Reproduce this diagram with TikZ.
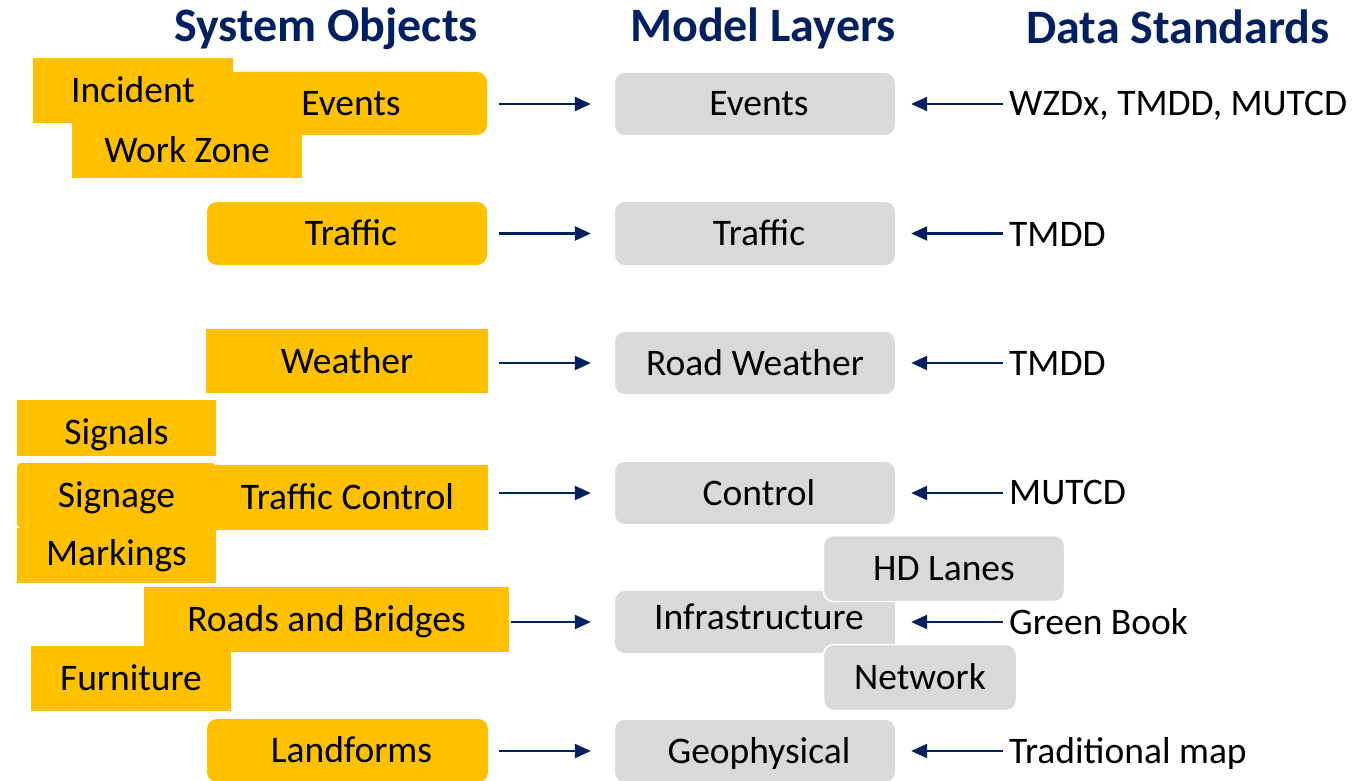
\documentclass[tikz,border=0pt]{standalone}
\usepackage{fontspec}
\setmainfont{Carlito}
\usetikzlibrary{arrows.meta}
\definecolor{objfill}{HTML}{FFC000}
\definecolor{layerfill}{HTML}{D9D9D9}
\definecolor{navy}{HTML}{002060}
% nudge a label to the right inside its box
\newcommand{\nudge}[1]{\hspace*{8pt}#1}
\tikzset{
  lbl/.style={font=\fontsize{37.5}{41}\selectfont, text height=24pt, text depth=0pt, inner sep=0pt},
  obj/.style={lbl, fill=objfill, draw=none},
  objr/.style={obj, rounded corners=10pt},
  layer/.style={lbl, fill=layerfill, rounded corners=10pt},
  sublayer/.style={layer, draw=white, line width=1.5pt},
  head/.style={font=\fontsize{48}{52}\selectfont\bfseries, text=navy, text height=31pt, text depth=0pt, inner sep=0pt},
  std/.style={lbl, anchor=west, inner sep=1pt},
  feed/.style={draw=navy, line width=2.4pt, -{Triangle[length=16pt,width=14pt]}},
}
\begin{document}
\begin{tikzpicture}[x=1pt, y=-1pt]
\useasboundingbox (0,0) rectangle (1371,781);

% column headings
\node[head] (hObj) at (326,26) {System Objects};
\node[head] (hLay) at (763,26) {Model Layers};
\node[head] (hStd) at (1178,28) {Data Standards};

% system objects
\node[objr, minimum width=280pt, minimum height=63pt] (yEvents) at (347,103.5) {\nudge{Events}};
\node[obj, minimum width=200pt, minimum height=65pt] (yIncident) at (133,90.5) {Incident};
\node[obj, minimum width=230pt, minimum height=55pt] (yWork) at (187,150.5) {Work Zone};

\node[objr, minimum width=280pt, minimum height=63pt] (yTraffic) at (347,233.5) {\nudge{Traffic}};
\node[obj, minimum width=282pt, minimum height=64pt] (yWeather) at (347,361) {Weather};

\node[obj, minimum width=281pt, minimum height=65pt] (yControl) at (347.5,497.5) {Traffic Control};
\node[obj, minimum width=199pt, minimum height=56pt] (ySignals) at (116.5,428) {\raisebox{-4pt}{Signals}};
\node[obj, minimum width=199pt, minimum height=65pt, rounded corners=4pt] (ySignage) at (116.5,495.5) {Signage};
\node[obj, minimum width=199pt, minimum height=55pt] (yMarkings) at (116.5,555.5) {\raisebox{2pt}{Markings}};

\node[obj, minimum width=200pt, minimum height=65pt] (yFurniture) at (131,678.5) {Furniture};
\node[obj, minimum width=365pt, minimum height=65pt] (yRoads) at (326.5,619.5) {Roads and Bridges};
\node[objr, minimum width=281pt, minimum height=63pt] (yLand) at (347.5,750.5) {\nudge{Landforms}};

% model layers
\node[layer, minimum width=280pt, minimum height=62pt] (gEvents) at (755,104) {\nudge{Events}};
\node[layer, minimum width=280pt, minimum height=63pt] (gTraffic) at (755,233.5) {\nudge{Traffic}};
\node[layer, minimum width=280pt, minimum height=62pt] (gWeather) at (755,363) {Road Weather};
\node[layer, minimum width=280pt, minimum height=62pt] (gControl) at (755,493) {\nudge{Control}};
\node[layer, minimum width=280pt, minimum height=62pt] (gInfra) at (755,622) {\raisebox{5pt}{\nudge{Infrastructure}}};
\node[sublayer, minimum width=241pt, minimum height=66pt] (gHD) at (944,568.5) {HD Lanes};
\node[sublayer, minimum width=193pt, minimum height=66pt] (gNet) at (920,677.5) {Network};
\node[layer, minimum width=280pt, minimum height=62pt] (gGeo) at (755,751) {\nudge{Geophysical}};

% data standards
\node[std] (sEvents) at (1008,104) {WZDx, TMDD, MUTCD};
\node[std] (sTraffic) at (1008,234) {TMDD};
\node[std] (sWeather) at (1008,363) {TMDD};
\node[std] (sControl) at (1008,492) {MUTCD};
\node[std] (sInfra) at (1008,622) {Green Book};
\node[std] (sGeo) at (1008,751) {Traditional map};

% objects feed layers
\foreach \o/\g/\s in {yEvents/gEvents/12, yTraffic/gTraffic/12, yWeather/gWeather/11,
                      yControl/gControl/11, yRoads/gInfra/2, yLand/gGeo/11} {
  \draw[feed] ([xshift=\s pt]\o.east |- \g.west) -- ([xshift=-24pt]\g.west);
}
% standards feed layers
\foreach \s/\g in {sEvents/gEvents, sTraffic/gTraffic, sWeather/gWeather,
                   sControl/gControl, sInfra/gInfra, sGeo/gGeo} {
  \draw[feed] ([xshift=-5pt]\s.west |- \g.east) -- ([xshift=16pt]\g.east);
}
\end{tikzpicture}
\end{document}
